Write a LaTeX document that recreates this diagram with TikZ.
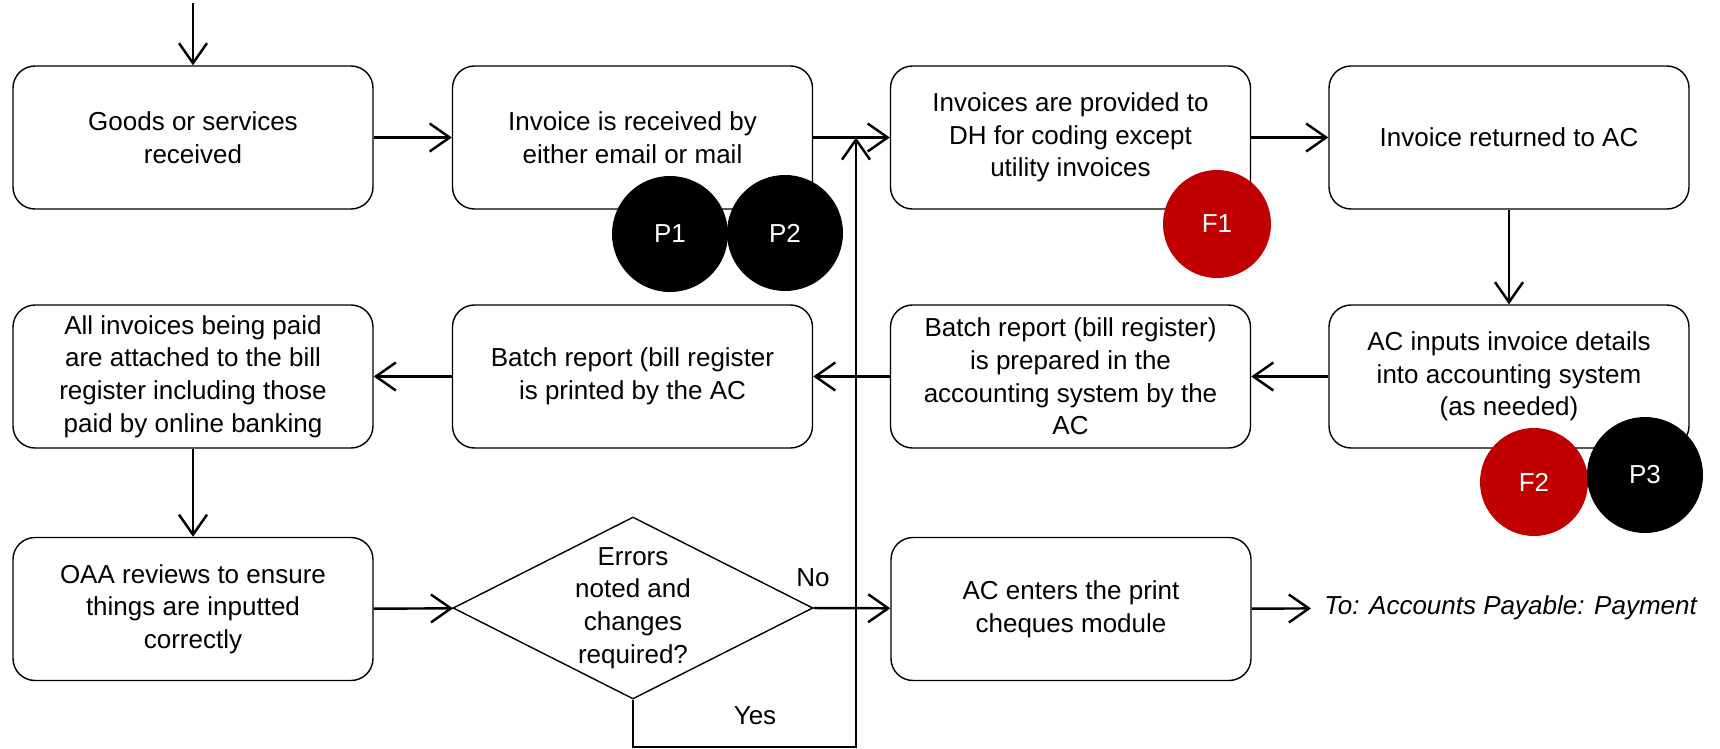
\documentclass[tikz,border=0pt]{standalone}
\usepackage{fontspec}
\setmainfont{Liberation Sans}
\usetikzlibrary{arrows.meta}
\usetikzlibrary{shapes.geometric}
\definecolor{redmark}{RGB}{192,0,0}
\tikzset{>={Straight Barb[length=.4cm,width=.56cm]}}
\tikzset{
	stepbox/.style={draw, fill=white, rounded corners=.44cm, minimum width=7.2cm,
		minimum height=2.86cm, align=center, inner sep=0pt, line width=.8pt},
	decision/.style={draw, diamond, minimum width=7.2cm, minimum height=3.64cm,
		inner sep=0pt, line width=.8pt},
	flow/.style={->, line width=1.4pt},
	pmark/.style={circle, fill=black, text=white, minimum size=2.32cm, inner sep=0pt},
	fmark/.style={circle, fill=redmark, text=white, minimum size=2.16cm, inner sep=0pt}
}
\begin{document}
\begin{tikzpicture}[every node/.style={font=\fontsize{14.8}{18.6}\selectfont}]
\useasboundingbox (0,0) rectangle (34.4,-14.98);

% first row
\node[stepbox] (goods) at (3.86,-2.75) {Goods or services\\received};
\node[stepbox] (received) at (12.65,-2.75) {Invoice is received by\\either email or mail};
\node[stepbox] (coding) at (21.41,-2.75) {Invoices are provided to\\DH for coding except\\utility invoices};
\node[stepbox] (returned) at (30.18,-2.75) {Invoice returned to AC};

% second row
\node[stepbox] (attached) at (3.86,-7.53) {All invoices being paid\\are attached to the bill\\register including those\\paid by online banking};
\node[stepbox] (printed) at (12.65,-7.53) {Batch report (bill register\\is printed by the AC};
\node[stepbox] (prepared) at (21.41,-7.53) {Batch report (bill register)\\is prepared in the\\accounting system by the\\AC};
\node[stepbox] (inputs) at (30.18,-7.53) {AC inputs invoice details\\into accounting system\\(as needed)};

% third row
\node[stepbox] (reviews) at (3.86,-12.18) {OAA reviews to ensure\\things are inputted\\correctly};
\node[decision, label={[align=center]center:Errors\\noted and\\changes\\required?}] (errors) at (12.66,-12.16) {};
\node[stepbox] (cheques) at (21.42,-12.18) {AC enters the print\\cheques module};
\node[anchor=west, inner xsep=.26cm, inner ysep=0pt] (topay) at (26.22,-12.16) {\itshape To: Accounts Payable: Payment};

% markers
\node[pmark] (p1) at (13.4,-4.68) {P1};
\node[pmark] (p2) at (15.7,-4.66) {P2};
\node[fmark] (f1) at (24.34,-4.48) {F1};
\node[fmark] (f2) at (30.68,-9.64) {F2};
\node[pmark] (p3) at (32.9,-9.5) {P3};

% connectors
\coordinate (start) at (3.86,-.06);
\coordinate (loop) at (17.12,-14.94);
\draw[flow] (start) -- (goods);
\draw[flow] (goods) -- (received);
\draw[flow] (received) -- (coding);
\draw[flow] (coding) -- (returned);
\draw[flow] (returned) -- (inputs);
\draw[flow] (inputs) -- (prepared);
\draw[flow] (prepared) -- (printed);
\draw[flow] (printed) -- (attached);
\draw[flow] (attached) -- (reviews);
\draw[flow] (reviews) -- (errors);
\draw[flow] (errors.east) -- (cheques);
\draw[flow] (cheques) -- (topay);
\draw[flow] (errors.south) |- (loop) -- (loop |- received.east);

% answers
\node (no) at (16.26,-11.56) {No};
\node (yes) at (15.1,-14.32) {Yes};

\end{tikzpicture}
\end{document}
